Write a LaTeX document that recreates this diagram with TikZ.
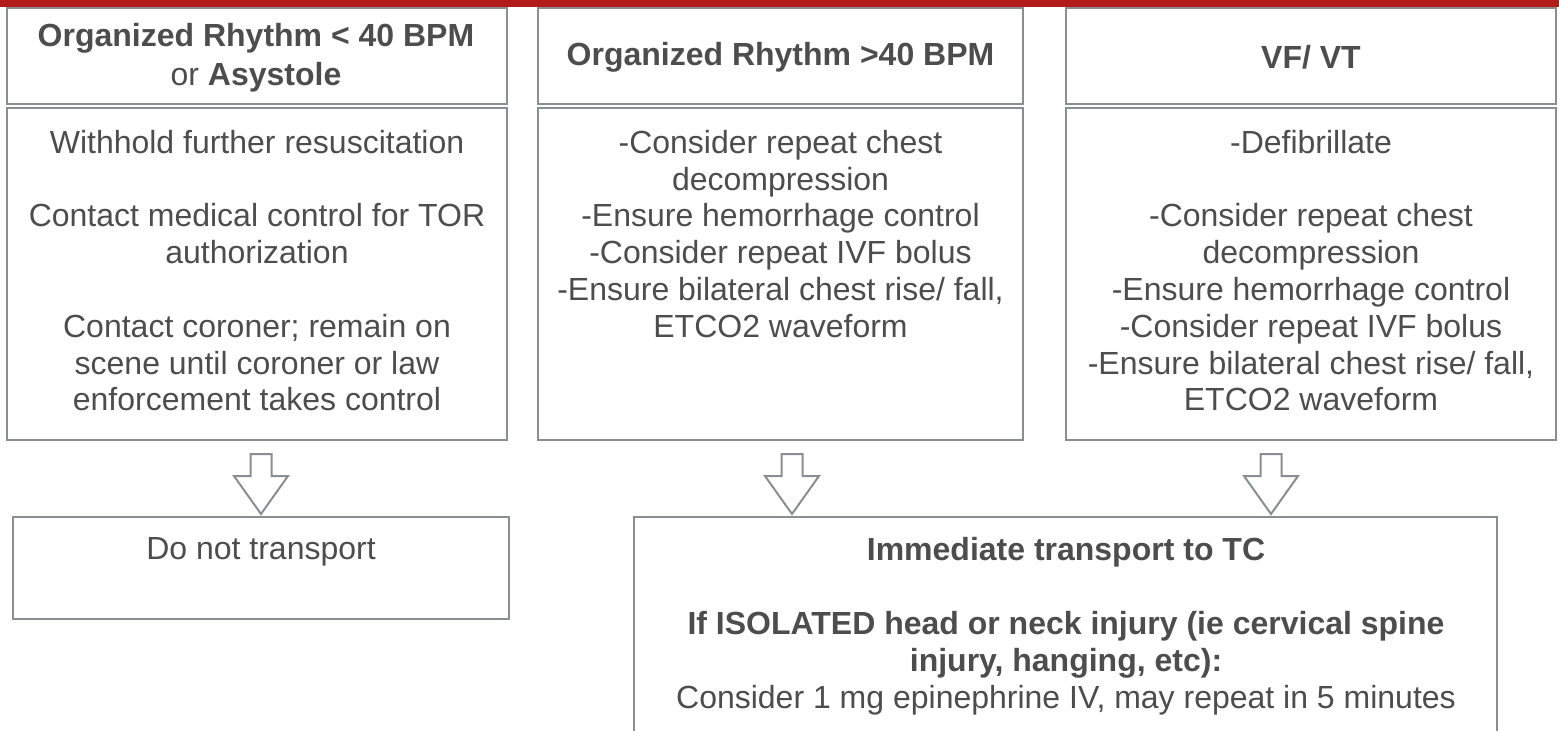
\documentclass[tikz,border=0pt]{standalone}
\usepackage{fontspec}
\setmainfont{Liberation Sans}
\usetikzlibrary{calc}
\definecolor{barred}{HTML}{B31B1B}
\definecolor{boxgray}{HTML}{8A8D92}
\definecolor{txtgray}{HTML}{4D4D4D}
\tikzset{
  box/.style={draw=boxgray, line width=2.6pt, fill=white, rectangle, inner sep=0pt},
  btxt/.style={text=txtgray, align=center, inner sep=0pt, anchor=north, font=\fontsize{32}{36.8}\selectfont},
  htxt/.style={text=txtgray, align=center, inner sep=0pt, font=\fontsize{32}{39}\selectfont},
  blockarrow/.style={draw=boxgray, line width=2pt, fill=white, line join=miter},
}
\begin{document}
\begin{tikzpicture}[x=1pt,y=-1pt]
\useasboundingbox (0,0) rectangle (1559,731);
\clip (0,0) rectangle (1559,731);

% header boxes
\node[box, minimum width=500pt, minimum height=96pt] (hL) at (257,56) {};
\node[box, minimum width=485pt, minimum height=96pt] (hM) at (780.5,56) {};
\node[box, minimum width=490pt, minimum height=96pt] (hR) at (1311,56) {};
% body boxes
\node[box, minimum width=500pt, minimum height=332pt] (bL) at (257,274) {};
\node[box, minimum width=485pt, minimum height=332pt] (bM) at (780.5,274) {};
\node[box, minimum width=490pt, minimum height=332pt] (bR) at (1311,274) {};
% bottom boxes
\node[box, minimum width=496pt, minimum height=102pt] (dL) at (261,568) {};
\node[box, minimum width=863pt, minimum height=243pt] (dR) at (1065.5,638.5) {};

% header texts
\node[htxt] (thL) at (256,57.5) {\textbf{Organized Rhythm < 40 BPM}\\or \textbf{Asystole}};
\node[htxt] (thM) at (780.5,57) {\textbf{Organized Rhythm >40 BPM}};
\node[htxt] (thR) at (1311,57) {\textbf{VF/ VT}};

% body texts
\node[btxt] (tbL) at (257,130) {Withhold further resuscitation\\[36.8pt]Contact medical control for TOR\\authorization\\[36.8pt]Contact coroner; remain on\\scene until coroner or law\\enforcement takes control};
\node[btxt] (tbM) at (780.5,130) {-Consider repeat chest\\decompression\\-Ensure hemorrhage control\\-Consider repeat IVF bolus\\-Ensure bilateral chest rise/ fall,\\ETCO2 waveform};
\node[btxt] (tbR) at (1311,130) {-Defibrillate\\[36.8pt]-Consider repeat chest\\decompression\\-Ensure hemorrhage control\\-Consider repeat IVF bolus\\-Ensure bilateral chest rise/ fall,\\ETCO2 waveform};

% bottom texts
\node[btxt] (tdL) at (261,537.5) {Do not transport};
\node[btxt] (tdR) at (1066,537.5) {\textbf{Immediate transport to TC}\\[36.8pt]\textbf{If ISOLATED head or neck injury (ie cervical spine}\\\textbf{injury, hanging, etc):}\\Consider 1 mg epinephrine IV, may repeat in 5 minutes};

% block arrows
\coordinate (aL) at (261,454);
\coordinate (aM) at (792,454);
\coordinate (aR) at (1271,454);
\foreach \a in {aL,aM,aR}{
  \draw[blockarrow] (\a) ++(-10.5,0) -- ++(21,0) -- ++(0,22) -- ++(16.5,0) -- ++(-27,38) -- ++(-27,-38) -- ++(16.5,0) -- cycle;
}

% top red bar
\fill[barred] (0,0) rectangle (1559,7);
\end{tikzpicture}
\end{document}
